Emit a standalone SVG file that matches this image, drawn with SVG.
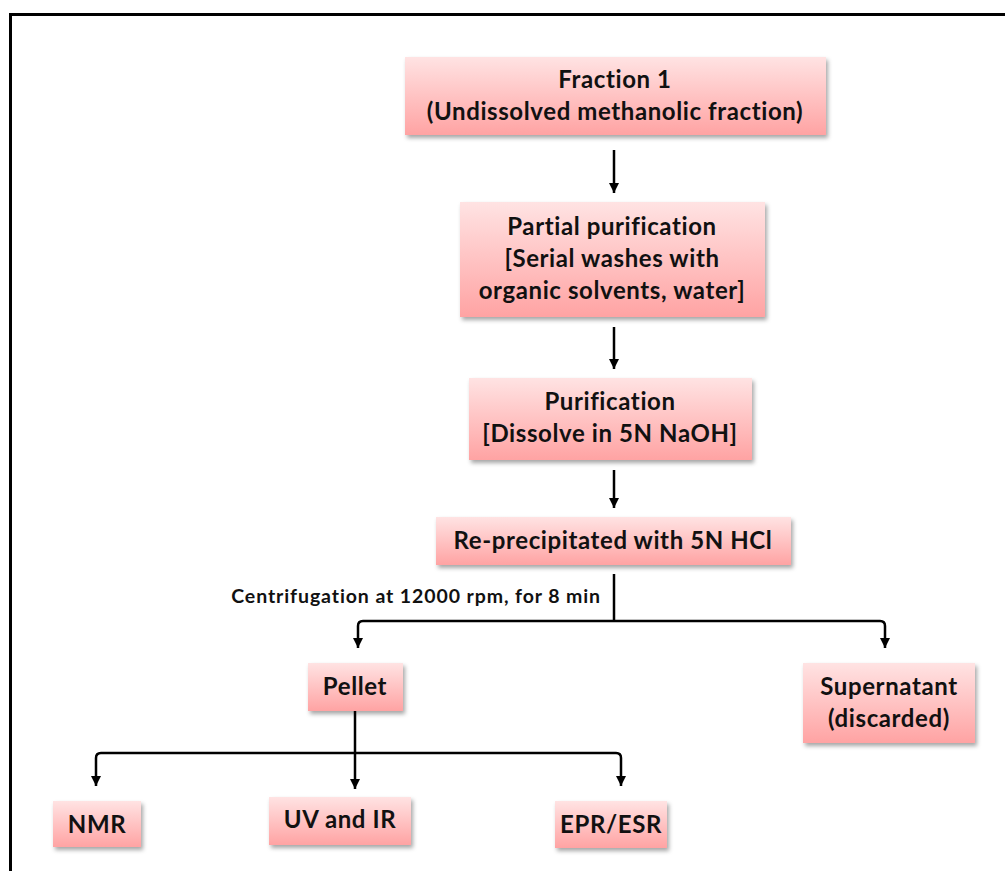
<svg xmlns="http://www.w3.org/2000/svg" width="1005" height="871" viewBox="0 0 1005 871">
<defs>
<linearGradient id="pink" x1="0" y1="0" x2="0" y2="1">
<stop offset="0" stop-color="#ffe3e3"/>
<stop offset="1" stop-color="#ffa3a3"/>
</linearGradient>
<filter id="sh" x="-10%" y="-10%" width="130%" height="140%">
<feDropShadow dx="2" dy="3" stdDeviation="2" flood-color="#000" flood-opacity="0.35"/>
</filter>
<marker id="ah" viewBox="0 0 10 10" refX="10" refY="5" markerWidth="10" markerHeight="10" markerUnits="userSpaceOnUse" orient="auto">
<path d="M0,0 L10,5 L0,10 Z" fill="#000"/>
</marker>
<style>
.box{fill:url(#pink);filter:url(#sh);}
.t{font-family:Lato,"Open Sans",sans-serif;font-weight:bold;font-size:24px;letter-spacing:0.6px;font-variant-ligatures:none;fill:#111;text-anchor:middle;}
.lbl{font-family:Lato,"Open Sans",sans-serif;font-weight:bold;font-size:19.5px;letter-spacing:0.9px;font-variant-ligatures:none;fill:#111;text-anchor:end;}
.c{fill:none;stroke:#000;stroke-width:2.5;}
.a{fill:none;stroke:#000;stroke-width:2.5;marker-end:url(#ah);}
</style>
</defs>
<rect x="0" y="0" width="1005" height="871" fill="#fff"/>
<path d="M10.5,871 V14.5 H1005" fill="none" stroke="#000" stroke-width="3"/>

<g id="fraction1">
<rect class="box" x="405" y="57" width="421" height="78"/>
<text class="t" x="615" y="88">Fraction 1</text>
<text class="t" x="615" y="120">(Undissolved methanolic fraction)</text>
</g>
<g id="partial">
<rect class="box" x="460" y="202" width="305" height="115"/>
<text class="t" x="612" y="235">Partial purification</text>
<text class="t" x="612" y="267">[Serial washes with</text>
<text class="t" x="612" y="299">organic solvents, water]</text>
</g>
<g id="purification">
<rect class="box" x="469" y="378" width="283" height="82"/>
<text class="t" x="610" y="410">Purification</text>
<text class="t" x="610" y="442">[Dissolve in 5N NaOH]</text>
</g>
<g id="reprecip">
<rect class="box" x="436" y="517" width="355" height="48"/>
<text class="t" x="613" y="549">Re-precipitated with 5N HCl</text>
</g>
<g id="pellet">
<rect class="box" x="308" y="663" width="95" height="48"/>
<text class="t" x="355" y="695">Pellet</text>
</g>
<g id="supernatant">
<rect class="box" x="803" y="663" width="172" height="80"/>
<text class="t" x="889" y="695">Supernatant</text>
<text class="t" x="889" y="727">(discarded)</text>
</g>
<g id="nmr">
<rect class="box" x="53" y="801" width="88" height="46"/>
<text class="t" x="97" y="833">NMR</text>
</g>
<g id="uvir">
<rect class="box" x="269" y="797" width="142" height="48"/>
<text class="t" x="340" y="828">UV and IR</text>
</g>
<g id="epr">
<rect class="box" x="555" y="801" width="112" height="47"/>
<text class="t" x="611" y="833">EPR/ESR</text>
</g>

<g id="connectors">
<line class="a" x1="614" y1="150" x2="614" y2="193"/>
<line class="a" x1="614" y1="327" x2="614" y2="369"/>
<line class="a" x1="614" y1="470" x2="614" y2="508"/>
<line class="c" x1="614" y1="574" x2="614" y2="621"/>
<path class="a" d="M614,621 H363 Q358,621 358,626 V648"/>
<path class="a" d="M614,621 H880 Q885,621 885,626 V648"/>
<line class="a" x1="355" y1="711" x2="355" y2="789"/>
<path class="a" d="M355,753 H101 Q96,753 96,758 V786"/>
<path class="a" d="M355,753 H616 Q621,753 621,758 V786"/>
<text class="lbl" x="601" y="603">Centrifugation at 12000 rpm, for 8 min</text>
</g>
</svg>
